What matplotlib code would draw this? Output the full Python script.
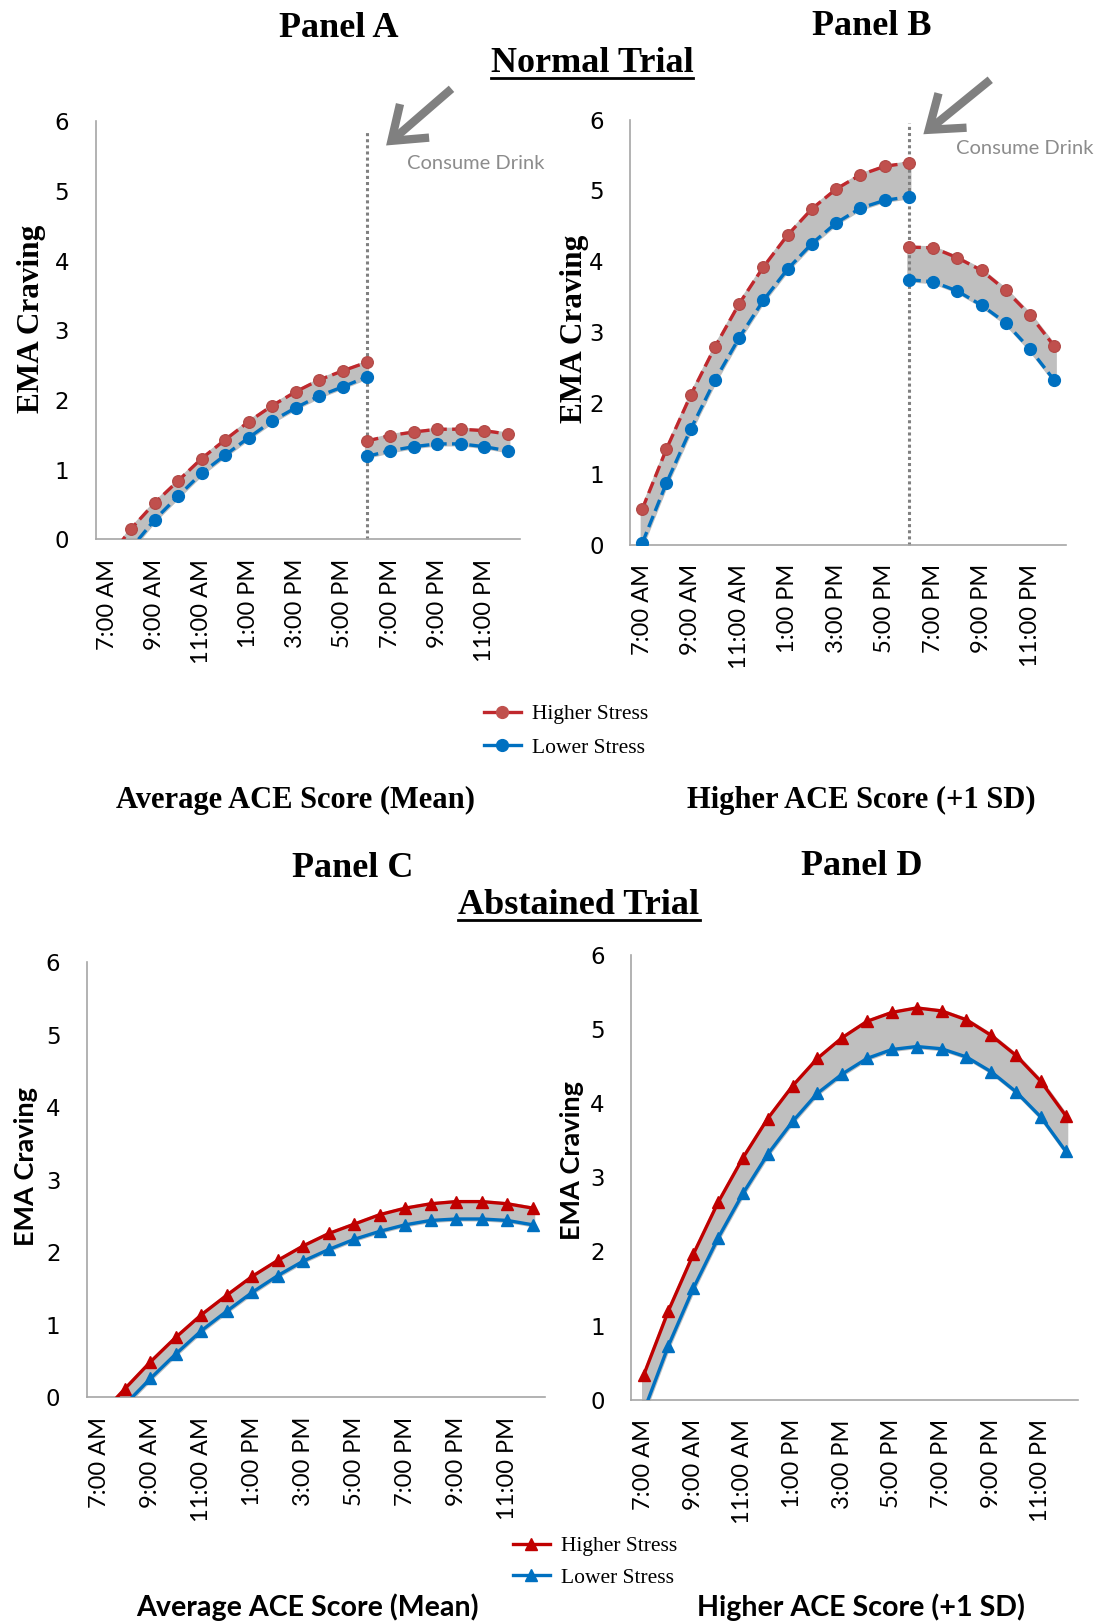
import matplotlib
matplotlib.use('Agg')
import matplotlib.pyplot as plt
from matplotlib.patches import FancyArrowPatch
from matplotlib.lines import Line2D
from matplotlib.font_manager import FontProperties

W, H = 1112, 1623

hours = ['7:00 AM', '8:00 AM', '9:00 AM', '10:00 AM', '11:00 AM', '12:00 PM',
         '1:00 PM', '2:00 PM', '3:00 PM', '4:00 PM', '5:00 PM', '6:00 PM',
         '7:00 PM', '8:00 PM', '9:00 PM', '10:00 PM', '11:00 PM', '12:00 AM']
yticks = [0, 1, 2, 3, 4, 5, 6]
series_labels = ['Higher Stress', 'Lower Stress']

# Panel A: Normal trial, average ACE (pre-drink 7AM-6PM, post-drink 6PM-12AM)
a_high_pre = [-0.30, 0.15, 0.52, 0.84, 1.16, 1.43, 1.69, 1.92, 2.12, 2.29, 2.42, 2.54]
a_low_pre = [-0.60, -0.13, 0.28, 0.62, 0.95, 1.21, 1.46, 1.70, 1.89, 2.06, 2.19, 2.33]
a_high_post = [1.41, 1.49, 1.54, 1.58, 1.58, 1.56, 1.51]
a_low_post = [1.19, 1.27, 1.33, 1.37, 1.37, 1.33, 1.27]

# Panel B: Normal trial, higher ACE (+1 SD)
b_high_pre = [0.50, 1.35, 2.11, 2.79, 3.40, 3.92, 4.37, 4.74, 5.02, 5.22, 5.34, 5.39]
b_low_pre = [0.02, 0.87, 1.63, 2.32, 2.92, 3.45, 3.89, 4.25, 4.54, 4.75, 4.86, 4.91]
b_high_post = [4.20, 4.19, 4.05, 3.87, 3.59, 3.24, 2.80]
b_low_post = [3.74, 3.71, 3.58, 3.38, 3.13, 2.76, 2.32]

# Panel C: Abstained trial, average ACE
c_high = [-0.26, 0.12, 0.49, 0.83, 1.14, 1.41, 1.67, 1.89, 2.09, 2.26, 2.39, 2.52,
          2.61, 2.67, 2.70, 2.70, 2.67, 2.61]
c_low = [-0.42, -0.10, 0.26, 0.60, 0.92, 1.19, 1.45, 1.68, 1.88, 2.04, 2.18, 2.29,
         2.38, 2.44, 2.46, 2.46, 2.44, 2.38]

# Panel D: Abstained trial, higher ACE
d_high = [0.33, 1.20, 1.96, 2.66, 3.26, 3.79, 4.23, 4.60, 4.88, 5.10, 5.22, 5.28,
          5.24, 5.12, 4.91, 4.64, 4.29, 3.83]
d_low = [-0.16, 0.73, 1.50, 2.18, 2.78, 3.31, 3.75, 4.13, 4.39, 4.60, 4.72, 4.76,
         4.73, 4.62, 4.42, 4.15, 3.81, 3.35]

drink_idx = 11  # 6:00 PM

RED_M = '#C0504D'
RED_L = '#C0282D'
RED_T = '#C00000'
BLUE = '#0070C0'
GRAY = '#BFBFBF'

fig = plt.figure(figsize=(W / 100, H / 100), dpi=100)

SERIF = 'Liberation Serif'
SANS = 'Lato'


def fx(x):
    return x / W


def fy(y):
    return 1 - y / H


def add_ax(l, t, r, b):
    return fig.add_axes([l / W, 1 - b / H, (r - l) / W, (b - t) / H])


def style_ax(ax):
    ax.set_xlim(-0.5, len(hours) - 0.5)
    ax.set_ylim(0, 6)
    for s in ['top', 'right']:
        ax.spines[s].set_visible(False)
    for s in ['left', 'bottom']:
        ax.spines[s].set_color('#A6A6A6')
        ax.spines[s].set_linewidth(1.2)
    ax.set_yticks(yticks)
    ax.set_yticklabels([str(v) for v in yticks], fontsize=16.5, family='DejaVu Sans')
    ax.set_xticks(range(0, len(hours), 2))
    ax.set_xticklabels(hours[::2], rotation=90, fontsize=17, family=SANS)
    ax.tick_params(axis='both', length=0)
    ax.tick_params(axis='y', pad=19)
    ax.tick_params(axis='x', pad=14)


def draw_normal(ax, hp, lp, ho, lo, top):
    xp = list(range(0, drink_idx + 1))
    xo = list(range(drink_idx, len(hours)))
    ax.fill_between(xp, lp, hp, color=GRAY, lw=3, edgecolor=GRAY, zorder=1)
    ax.fill_between(xo, lo, ho, color=GRAY, lw=3, edgecolor=GRAY, zorder=1)
    for x, h, l in [(xp, hp, lp), (xo, ho, lo)]:
        ax.plot(x, h, color=RED_L, ls=(0, (3.6, 1.6)), lw=2.4, marker='o', ms=8.5,
                mfc=RED_M, mec='#B04845', mew=0.8, zorder=3)
        ax.plot(x, l, color=BLUE, ls=(0, (3.6, 1.6)), lw=2.4, marker='o', ms=8.5,
                mfc=BLUE, mec=BLUE, zorder=3)
    ax.plot([drink_idx, drink_idx], [0, top], color='#808080', lw=2.2,
            ls=(0, (1, 1)), zorder=2, clip_on=False)


def draw_abstained(ax, h, l):
    x = list(range(len(hours)))
    ax.fill_between(x, l, h, color=GRAY, lw=3, edgecolor=GRAY, zorder=1)
    ax.plot(x, h, color=RED_T, lw=2.4, marker='^', ms=8.5, mfc=RED_T, mec=RED_T, zorder=3)
    ax.plot(x, l, color=BLUE, lw=2.4, marker='^', ms=8.5, mfc=BLUE, mec=BLUE, zorder=3)


# ---- Axes ----
axA = add_ax(95.7, 121.4, 519.6, 539.3)
axB = add_ax(630.1, 119.6, 1066.4, 544.6)
axC = add_ax(86.8, 962.4, 545.4, 1397.3)
axD = add_ax(631.2, 954.5, 1078.1, 1399.8)

for ax in (axA, axB, axC, axD):
    style_ax(ax)

draw_normal(axA, a_high_pre, a_low_pre, a_high_post, a_low_post, 5.87)
draw_normal(axB, b_high_pre, b_low_pre, b_high_post, b_low_post, 5.95)
draw_abstained(axC, c_high, c_low)
draw_abstained(axD, d_high, d_low)

# y labels
fig.text(fx(32), fy(319), 'EMA Craving', rotation=90, ha='center', va='center',
         family=SERIF, weight='bold', fontsize=22.5)
fig.text(fx(574.7), fy(329), 'EMA Craving', rotation=90, ha='center', va='center',
         family=SERIF, weight='bold', fontsize=22.5)
fig.text(fx(25.9), fy(1167), 'EMA Craving', rotation=90, ha='center', va='center',
         family=SANS, weight='bold', fontsize=19.5)
fig.text(fx(572), fy(1161), 'EMA Craving', rotation=90, ha='center', va='center',
         family=SANS, weight='bold', fontsize=19.5)

# Consume drink annotations
for (tx, ty, ax0, ay0, ax1, ay1) in [(476, 163.6, 453.6, 87, 384, 147.3),
                                     (1024.5, 148.7, 992.4, 78, 921.2, 136)]:
    fig.text(fx(tx), fy(ty), 'Consume Drink', ha='center', va='center',
             family=SANS, color='#8C8C8C', fontsize=14.5)
    arr = FancyArrowPatch((fx(ax0), fy(ay0)), (fx(ax1), fy(ay1)),
                          transform=fig.transFigure,
                          arrowstyle='->,head_length=0.55,head_width=0.4',
                          mutation_scale=40, lw=6, color='#808080',
                          capstyle='butt', joinstyle='miter')
    fig.add_artist(arr)

# Titles (baseline-positioned)
fig.text(fx(338.6), fy(36.7), 'Panel A', ha='center', va='baseline', family=SERIF,
         weight='bold', fontsize=26)
fig.text(fx(871.8), fy(35), 'Panel B', ha='center', va='baseline', family=SERIF,
         weight='bold', fontsize=26)
t1 = fig.text(fx(592), fy(71.5), 'Normal Trial', ha='center', va='baseline', family=SERIF,
              weight='bold', fontsize=26)
fig.text(fx(353), fy(877), 'Panel C', ha='center', va='baseline', family=SERIF,
         weight='bold', fontsize=26)
fig.text(fx(862), fy(875), 'Panel D', ha='center', va='baseline', family=SERIF,
         weight='bold', fontsize=26)
t2 = fig.text(fx(579), fy(913.5), 'Abstained Trial', ha='center', va='baseline', family=SERIF,
              weight='bold', fontsize=26)

# Subtitles
fig.text(fx(295), fy(800), 'Average ACE Score (Mean)', ha='center', va='center',
         family=SERIF, weight='bold', fontsize=22)
fig.text(fx(861.5), fy(800), 'Higher ACE Score (+1 SD)', ha='center', va='center',
         family=SERIF, weight='bold', fontsize=22)
fig.text(fx(307.5), fy(1607), 'Average ACE Score (Mean)', ha='center', va='center',
         family=SANS, weight='bold', fontsize=20.6)
fig.text(fx(861), fy(1607), 'Higher ACE Score (+1 SD)', ha='center', va='center',
         family=SANS, weight='bold', fontsize=20.6)

# Legends
leg_prop = FontProperties(family=SERIF, size=15.5)
h1 = [Line2D([], [], color=RED_L, lw=2.4, marker='o', ms=8.5, mfc=RED_M, mec=RED_M),
      Line2D([], [], color=BLUE, lw=2.4, marker='o', ms=8.5, mfc=BLUE, mec=BLUE)]
fig.legend(h1, series_labels, loc='center', bbox_to_anchor=(fx(566), fy(731)),
           frameon=False, prop=leg_prop, handlelength=1.7, handletextpad=0.5,
           labelspacing=0.62)
h2 = [Line2D([], [], color=RED_T, lw=2.4, marker='^', ms=8.5, mfc=RED_T, mec=RED_T),
      Line2D([], [], color=BLUE, lw=2.4, marker='^', ms=8.5, mfc=BLUE, mec=BLUE)]
fig.legend(h2, series_labels, loc='center', bbox_to_anchor=(fx(595), fy(1562)),
           frameon=False, prop=leg_prop, handlelength=1.7, handletextpad=0.5,
           labelspacing=0.55)

# Underlines
fig.canvas.draw()
r = fig.canvas.get_renderer()
for t, uy in [(t1, 77.5), (t2, 920)]:
    bb = t.get_window_extent(r)
    fig.add_artist(Line2D([bb.x0 / W, bb.x1 / W], [fy(uy), fy(uy)],
                          transform=fig.transFigure, color='black', lw=2))

fig.savefig('out.png', dpi=100)
